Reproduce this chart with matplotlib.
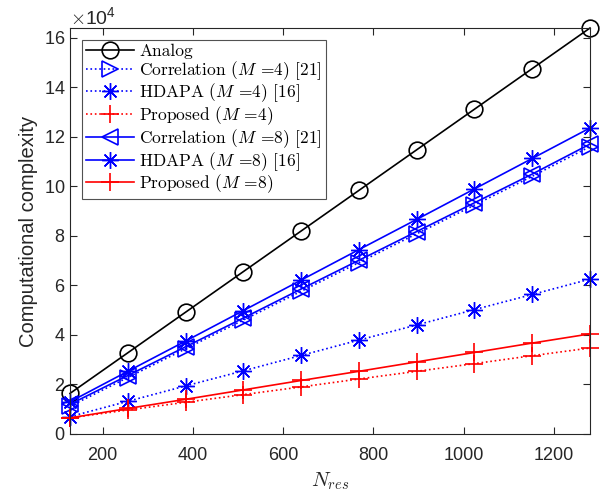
import matplotlib
matplotlib.use("Agg")
import matplotlib.pyplot as plt
from matplotlib.ticker import ScalarFormatter

plt.rcParams['font.family'] = ['Liberation Sans', 'DejaVu Sans']
plt.rcParams['mathtext.fontset'] = 'cm'

n_res = [128, 256, 384, 512, 640, 768, 896, 1024, 1152, 1280]
analog = [16384, 32768, 49152, 65536, 81920, 98304, 114688, 131072, 147456, 163840]
corr_m4 = [11200, 22800, 34400, 46000, 57600, 69200, 80800, 92400, 104000, 116000]
hdapa_m4 = [7000, 13200, 19400, 25500, 31700, 37900, 44000, 50200, 56300, 62500]
prop_m4 = [6500, 9700, 12800, 15900, 19000, 22200, 25300, 28400, 31600, 34700]
corr_m8 = [12000, 23600, 35200, 46800, 58500, 70100, 81700, 93300, 104900, 117000]
hdapa_m8 = [13000, 25300, 37500, 49800, 62100, 74400, 86600, 98900, 111200, 123500]
prop_m8 = [6500, 10300, 14000, 17800, 21600, 25300, 29100, 32900, 36700, 40400]

labels = ['Analog',
          'Correlation ($M$ =4) [21]',
          'HDAPA ($M$ =4) [16]',
          'Proposed ($M$ =4)',
          'Correlation ($M$ =8) [21]',
          'HDAPA ($M$ =8) [16]',
          'Proposed ($M$ =8)']

fig = plt.figure(figsize=(6.11, 4.96), dpi=100)
ax = fig.add_axes([0.1146, 0.125, 0.851, 0.8185])

lw = 1.2
common = dict(lw=lw, clip_on=False)
ax.plot(n_res, analog, color='black', ls='-', marker='o', ms=12, mew=1.2,
        mfc='none', label=labels[0], **common)
ax.plot(n_res, corr_m4, color='blue', ls=':', marker='>', ms=12, mew=1.2,
        mfc='none', label=labels[1], **common)
ax.plot(n_res, hdapa_m4, color='blue', ls=':', marker=(8, 2, 0), ms=12,
        mew=1.0, label=labels[2], **common)
ax.plot(n_res, prop_m4, color='red', ls=':', marker='+', ms=13, mew=1.2,
        label=labels[3], **common)
ax.plot(n_res, corr_m8, color='blue', ls='-', marker='<', ms=12, mew=1.2,
        mfc='none', label=labels[4], **common)
ax.plot(n_res, hdapa_m8, color='blue', ls='-', marker=(8, 2, 0), ms=12,
        mew=1.0, label=labels[5], **common)
ax.plot(n_res, prop_m8, color='red', ls='-', marker='+', ms=13, mew=1.2,
        label=labels[6], **common)

ax.set_xlim(128, 1280)
ax.set_ylim(0, 163840)
ax.set_xticks([200, 400, 600, 800, 1000, 1200])
ax.set_yticks([0, 20000, 40000, 60000, 80000, 100000, 120000, 140000, 160000])
fmt = ScalarFormatter(useMathText=True)
fmt.set_powerlimits((4, 4))
ax.yaxis.set_major_formatter(fmt)
ax.yaxis.get_offset_text().set_fontsize(14)
ax.yaxis.get_offset_text().set_color('#262626')

ax.tick_params(direction='in', top=True, right=True, labelsize=13,
               colors='#262626', length=5, width=0.8)
ax.tick_params(axis='x', pad=9)
for s in ax.spines.values():
    s.set_color('#262626')
    s.set_linewidth(0.8)

ax.set_xlabel(r'$N_{res}$', fontsize=15, color='#262626', labelpad=5)
ax.set_ylabel('Computational complexity', fontsize=14.5, color='#262626')

leg = ax.legend(loc='upper left', prop={'family': 'cmr10', 'size': 12.5},
                handlelength=2.8, frameon=True, fancybox=False,
                borderaxespad=0.7, labelspacing=0.0, handletextpad=0.3,
                borderpad=0.2)
leg.get_frame().set_edgecolor('#262626')
leg.get_frame().set_linewidth(0.8)

fig.savefig('out.png', dpi=100)
